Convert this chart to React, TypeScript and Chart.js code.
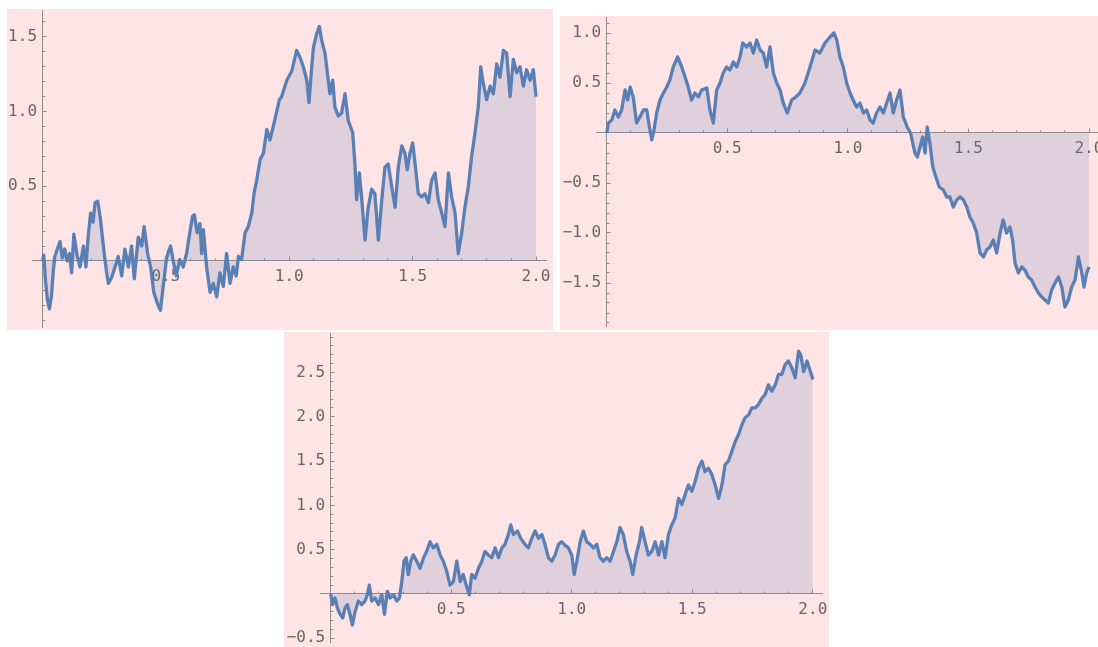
import React, { useEffect, useRef } from 'react';
import { Chart, registerables } from 'chart.js';

Chart.register(...registerables);

// ---------- data: path A (top left) ----------
const pathATimes = [
  0, 0.005, 0.012, 0.02, 0.028, 0.036, 0.044, 0.05, 0.06, 0.071,
  0.08, 0.09, 0.1, 0.11, 0.118, 0.127, 0.14, 0.152, 0.166, 0.176,
  0.186, 0.195, 0.205, 0.213, 0.224, 0.234, 0.25, 0.26, 0.267, 0.28,
  0.294, 0.307, 0.321, 0.334, 0.348, 0.361, 0.372, 0.38, 0.388, 0.402,
  0.412, 0.426, 0.438, 0.451, 0.469, 0.478, 0.489, 0.502, 0.51, 0.519,
  0.531, 0.542, 0.556, 0.57, 0.584, 0.597, 0.608, 0.615, 0.627, 0.638,
  0.645, 0.652, 0.665, 0.679, 0.692, 0.706, 0.719, 0.733, 0.746, 0.76,
  0.773, 0.785, 0.794, 0.807, 0.821, 0.834, 0.848, 0.858, 0.868, 0.882,
  0.895, 0.909, 0.922, 0.935, 0.949, 0.96, 0.969, 0.99, 1.01, 1.03,
  1.044, 1.057, 1.071, 1.08, 1.091, 1.098, 1.111, 1.122, 1.131, 1.145,
  1.158, 1.165, 1.176, 1.185, 1.199, 1.212, 1.226, 1.239, 1.257, 1.266,
  1.273, 1.284, 1.294, 1.307, 1.32, 1.334, 1.347, 1.361, 1.375, 1.388,
  1.401, 1.415, 1.429, 1.442, 1.456, 1.469, 1.478, 1.489, 1.5, 1.51,
  1.523, 1.537, 1.55, 1.564, 1.577, 1.591, 1.604, 1.618, 1.631, 1.645,
  1.658, 1.672, 1.685, 1.699, 1.712, 1.726, 1.739, 1.753, 1.766, 1.776,
  1.786, 1.8, 1.814, 1.827, 1.841, 1.854, 1.868, 1.881, 1.895, 1.908,
  1.922, 1.935, 1.949, 1.962, 1.976, 1.989, 2.0,
];
const pathAValues = [
  0, 0.04, -0.13, -0.26, -0.32, -0.24, -0.06, 0.03, 0.08, 0.13,
  0.02, 0.08, 0.0, 0.05, -0.08, 0.18, 0.04, -0.04, 0.1, -0.04,
  0.18, 0.32, 0.26, 0.39, 0.4, 0.29, 0.05, -0.08, -0.15, -0.11,
  -0.04, 0.03, -0.1, 0.08, -0.04, 0.1, -0.12, 0.02, 0.16, 0.1,
  0.23, 0.05, -0.04, -0.21, -0.3, -0.33, -0.17, 0.01, 0.06, 0.1,
  -0.01, -0.1, 0.01, -0.04, 0.05, 0.19, 0.3, 0.31, 0.19, 0.25,
  0.05, 0.21, -0.04, -0.21, -0.15, -0.24, -0.08, -0.17, 0.05, -0.15,
  -0.04, -0.1, 0.03, 0.01, 0.19, 0.23, 0.32, 0.46, 0.54, 0.68,
  0.72, 0.88, 0.81, 0.9, 1.0, 1.08, 1.1, 1.21, 1.27, 1.41,
  1.36, 1.3, 1.21, 1.06, 1.3, 1.43, 1.52, 1.57, 1.48, 1.39,
  1.21, 1.12, 1.21, 1.03, 0.97, 0.99, 1.12, 0.94, 0.86, 0.65,
  0.41, 0.59, 0.41, 0.14, 0.36, 0.48, 0.45, 0.14, 0.41, 0.63,
  0.65, 0.5, 0.36, 0.63, 0.77, 0.72, 0.61, 0.72, 0.79, 0.65,
  0.45, 0.43, 0.45, 0.39, 0.54, 0.59, 0.41, 0.32, 0.23, 0.59,
  0.43, 0.32, 0.05, 0.19, 0.36, 0.5, 0.7, 0.86, 1.03, 1.3,
  1.19, 1.08, 1.17, 1.12, 1.32, 1.23, 1.41, 1.39, 1.1, 1.35,
  1.26, 1.3, 1.17, 1.28, 1.21, 1.28, 1.1,
];

// ---------- data: path B (top right) ----------
const pathBTimes = [
  0, 0.007, 0.021, 0.034, 0.048, 0.062, 0.076, 0.087, 0.097, 0.11,
  0.124, 0.138, 0.152, 0.166, 0.177, 0.187, 0.196, 0.207, 0.221, 0.235,
  0.249, 0.262, 0.276, 0.294, 0.311, 0.325, 0.338, 0.352, 0.366, 0.38,
  0.394, 0.415, 0.428, 0.442, 0.456, 0.47, 0.483, 0.497, 0.511, 0.525,
  0.539, 0.553, 0.564, 0.58, 0.594, 0.608, 0.622, 0.636, 0.649, 0.663,
  0.677, 0.691, 0.705, 0.719, 0.732, 0.749, 0.767, 0.784, 0.801, 0.822,
  0.843, 0.864, 0.884, 0.905, 0.926, 0.942, 0.954, 0.967, 0.981, 0.995,
  1.009, 1.022, 1.036, 1.05, 1.064, 1.078, 1.092, 1.105, 1.119, 1.133,
  1.147, 1.161, 1.175, 1.188, 1.202, 1.216, 1.23, 1.246, 1.26, 1.269,
  1.278, 1.288, 1.299, 1.31, 1.32, 1.329, 1.34, 1.352, 1.365, 1.379,
  1.396, 1.41, 1.423, 1.437, 1.451, 1.465, 1.479, 1.493, 1.506, 1.52,
  1.534, 1.548, 1.562, 1.575, 1.589, 1.603, 1.617, 1.631, 1.644, 1.658,
  1.672, 1.683, 1.693, 1.707, 1.721, 1.734, 1.748, 1.762, 1.776, 1.79,
  1.804, 1.817, 1.831, 1.845, 1.859, 1.873, 1.887, 1.9, 1.914, 1.928,
  1.942, 1.956, 1.97, 1.979, 1.99, 2.0,
];
const pathBValues = [
  0, 0.1, 0.13, 0.23, 0.16, 0.23, 0.43, 0.33, 0.46, 0.36,
  0.1, 0.16, 0.23, 0.23, 0.06, -0.07, 0.03, 0.2, 0.33, 0.4,
  0.46, 0.53, 0.66, 0.76, 0.66, 0.56, 0.46, 0.33, 0.4, 0.36,
  0.43, 0.45, 0.23, 0.1, 0.43, 0.5, 0.6, 0.66, 0.63, 0.71,
  0.66, 0.76, 0.9, 0.86, 0.9, 0.8, 0.93, 0.83, 0.8, 0.66,
  0.86, 0.6, 0.5, 0.43, 0.3, 0.2, 0.33, 0.36, 0.4, 0.5,
  0.66, 0.83, 0.8, 0.9, 0.96, 1.0, 0.93, 0.76, 0.66, 0.5,
  0.4, 0.33, 0.26, 0.3, 0.2, 0.23, 0.13, 0.1, 0.2, 0.26,
  0.2, 0.3, 0.4, 0.2, 0.33, 0.43, 0.16, 0.06, 0.0, -0.1,
  -0.2, -0.24, -0.14, -0.04, -0.2, 0.06, -0.1, -0.34, -0.44, -0.54,
  -0.57, -0.64, -0.64, -0.74, -0.67, -0.64, -0.67, -0.74, -0.84, -0.9,
  -1.0, -1.2, -1.24, -1.17, -1.14, -1.07, -1.2, -1.0, -0.87, -1.0,
  -0.94, -1.07, -1.3, -1.4, -1.34, -1.37, -1.44, -1.47, -1.54, -1.6,
  -1.64, -1.67, -1.7, -1.57, -1.5, -1.44, -1.54, -1.74, -1.67, -1.54,
  -1.47, -1.24, -1.4, -1.54, -1.4, -1.34,
];

// ---------- data: path C (bottom) ----------
const pathCTimes = [
  0, 0.008, 0.018, 0.028, 0.039, 0.05, 0.059, 0.069, 0.08, 0.09,
  0.101, 0.115, 0.129, 0.142, 0.152, 0.16, 0.17, 0.184, 0.198, 0.212,
  0.223, 0.235, 0.246, 0.26, 0.274, 0.285, 0.295, 0.304, 0.313, 0.322,
  0.332, 0.343, 0.357, 0.371, 0.385, 0.398, 0.412, 0.426, 0.44, 0.454,
  0.467, 0.481, 0.495, 0.509, 0.523, 0.537, 0.55, 0.562, 0.575, 0.585,
  0.599, 0.613, 0.627, 0.64, 0.654, 0.668, 0.682, 0.696, 0.71, 0.723,
  0.737, 0.747, 0.758, 0.775, 0.788, 0.806, 0.82, 0.834, 0.848, 0.862,
  0.876, 0.889, 0.903, 0.917, 0.931, 0.945, 0.958, 0.972, 0.986, 1.0,
  1.01, 1.021, 1.035, 1.048, 1.062, 1.076, 1.09, 1.104, 1.117, 1.131,
  1.145, 1.159, 1.173, 1.187, 1.2, 1.214, 1.228, 1.242, 1.253, 1.267,
  1.281, 1.29, 1.304, 1.318, 1.332, 1.346, 1.36, 1.374, 1.387, 1.401,
  1.415, 1.429, 1.443, 1.457, 1.47, 1.484, 1.498, 1.512, 1.526, 1.54,
  1.553, 1.567, 1.581, 1.595, 1.609, 1.623, 1.636, 1.65, 1.664, 1.678,
  1.692, 1.706, 1.719, 1.733, 1.747, 1.761, 1.775, 1.789, 1.802, 1.816,
  1.83, 1.844, 1.858, 1.872, 1.885, 1.899, 1.913, 1.927, 1.941, 1.95,
  1.962, 1.976, 1.99, 2.0,
];
const pathCValues = [
  0, -0.12, -0.045, -0.16, -0.23, -0.27, -0.16, -0.12, -0.23, -0.35,
  -0.2, -0.08, -0.12, -0.08, -0.01, 0.1, -0.08, -0.045, -0.12, -0.01,
  -0.23, 0.03, -0.045, -0.01, -0.08, -0.045, 0.14, 0.37, 0.41, 0.22,
  0.37, 0.44, 0.37, 0.29, 0.41, 0.48, 0.59, 0.52, 0.56, 0.44,
  0.37, 0.26, 0.1, 0.14, 0.37, 0.14, 0.22, 0.1, -0.01, 0.22,
  0.18, 0.29, 0.37, 0.48, 0.44, 0.41, 0.52, 0.41, 0.52, 0.56,
  0.67, 0.78, 0.67, 0.71, 0.63, 0.56, 0.52, 0.63, 0.71, 0.63,
  0.67, 0.56, 0.41, 0.37, 0.44, 0.56, 0.59, 0.55, 0.52, 0.44,
  0.22, 0.37, 0.59, 0.71, 0.59, 0.56, 0.52, 0.56, 0.41, 0.37,
  0.41, 0.37, 0.48, 0.59, 0.75, 0.67, 0.48, 0.37, 0.22, 0.44,
  0.59, 0.75, 0.59, 0.44, 0.48, 0.59, 0.44, 0.59, 0.41, 0.67,
  0.78, 0.86, 1.08, 1.01, 1.12, 1.23, 1.16, 1.27, 1.42, 1.5,
  1.38, 1.42, 1.35, 1.23, 1.08, 1.23, 1.46, 1.5, 1.61, 1.72,
  1.8, 1.91, 1.99, 2.02, 2.1, 2.1, 2.14, 2.21, 2.25, 2.36,
  2.29, 2.36, 2.48, 2.48, 2.59, 2.63, 2.55, 2.44, 2.74, 2.7,
  2.51, 2.63, 2.51, 2.42,
];

// ---------- tick labels ----------
const xMajorTicks = [0.5, 1.0, 1.5, 2.0];
const yMajorTicksA = [0.5, 1.0, 1.5];
const yMajorTicksB = [-1.5, -1.0, -0.5, 0.5, 1.0];
const yMajorTicksC = [-0.5, 0.5, 1.0, 1.5, 2.0, 2.5];

// ---------- styles ----------
const LINE = '#5A7FB5';
const FILL = 'rgba(94,129,181,0.2)';
const AXIS = '#8c8c8c';
const LABEL = '#666666';
const BG = 'rgb(255,228,229)';
const FONT = { family: "'DejaVu Sans Mono', monospace", size: 16, lineHeight: 1.2 };

type Panel = {
  left: number; top: number; width: number; height: number;
  pad: { left: number; right: number; top: number; bottom: number };
  xMin: number; xMax: number; yMin: number; yMax: number;
  times: number[]; values: number[]; yTicks: number[];
};

const panels: Panel[] = [
  {
    left: 7, top: 9, width: 546, height: 321,
    pad: { left: 25, right: 7, top: 1, bottom: 3 },
    xMin: -0.0426, xMax: 2.0405, yMin: -0.4418, yMax: 1.68,
    times: pathATimes, values: pathAValues, yTicks: yMajorTicksA,
  },
  {
    left: 560, top: 16, width: 546, height: 314,
    pad: { left: 36.7, right: 7.3, top: 1.3, bottom: 3.3 },
    xMin: -0.0415, xMax: 2.04, yMin: -1.937, yMax: 1.157,
    times: pathBTimes, values: pathBValues, yTicks: yMajorTicksB,
  },
  {
    left: 284, top: 332, width: 545, height: 315,
    pad: { left: 36, right: 6.3, top: 1, bottom: 4.3 },
    xMin: -0.0444, xMax: 2.041, yMin: -0.55, yMax: 2.946,
    times: pathCTimes, values: pathCValues, yTicks: yMajorTicksC,
  },
];

const fmt = (v: number) => (v < 0 ? '\u2212' : '') + Math.abs(v).toFixed(1);

function buildConfig(p: Panel): any {
  const areaW = p.width - p.pad.left - p.pad.right;
  const gapValue = (5.5 * (p.xMax - p.xMin)) / areaW;
  const zeroPad = (s: any) => {
    s.paddingLeft = 0; s.paddingRight = 0; s.paddingTop = 0; s.paddingBottom = 0;
  };
  const setTicks = (vals: number[]) => (s: any) => {
    s.ticks = vals.map((v) => ({ value: v }));
  };
  const n = Math.min(p.times.length, p.values.length);
  const points = [] as { x: number; y: number }[];
  for (let i = 0; i < n; i++) points.push({ x: p.times[i], y: p.values[i] });

  const minorGrid = {
    display: true, drawOnChartArea: false, drawTicks: true,
    tickLength: -2.5, tickColor: AXIS, tickWidth: 1,
  };
  const majorGrid = {
    display: true, drawOnChartArea: false, drawTicks: true,
    tickLength: -4.5, tickColor: AXIS, tickWidth: 1,
  };

  return {
    type: 'line',
    data: {
      datasets: [
        {
          data: points,
          borderColor: LINE,
          backgroundColor: FILL,
          borderWidth: 3.3,
          pointRadius: 0,
          fill: 'origin',
          tension: 0,
          borderJoinStyle: 'round',
          xAxisID: 'x',
          yAxisID: 'y',
        },
      ],
    },
    options: {
      animation: false,
      responsive: false,
      events: [],
      layout: { padding: p.pad },
      plugins: { legend: { display: false }, tooltip: { enabled: false } },
      scales: {
        x: {
          type: 'linear', axis: 'x', position: { y: 0 },
          min: p.xMin, max: p.xMax,
          afterBuildTicks: setTicks(xMajorTicks), afterFit: zeroPad,
          grid: majorGrid,
          border: { display: true, color: AXIS, width: 1 },
          ticks: {
            display: true, callback: (v: any) => fmt(Number(v)), color: LABEL, font: FONT,
            padding: 10.9, autoSkip: false, maxRotation: 0, minRotation: 0,
          },
        },
        xm: {
          type: 'linear', axis: 'x', position: { y: 0 },
          min: p.xMin, max: p.xMax, afterFit: zeroPad,
          grid: minorGrid,
          border: { display: false },
          ticks: { display: false, stepSize: 0.1, includeBounds: false, autoSkip: false },
        },
        y: {
          type: 'linear', axis: 'y', position: { x: 0 },
          min: p.yMin, max: p.yMax,
          afterBuildTicks: setTicks(p.yTicks), afterFit: zeroPad,
          grid: majorGrid,
          border: { display: true, color: AXIS, width: 1 },
          ticks: { display: false, autoSkip: false },
        },
        ym: {
          type: 'linear', axis: 'y', position: { x: 0 },
          min: p.yMin, max: p.yMax, afterFit: zeroPad,
          grid: minorGrid,
          border: { display: false },
          ticks: { display: false, stepSize: 0.1, includeBounds: false, autoSkip: false },
        },
        yl: {
          type: 'linear', axis: 'y', position: { x: -gapValue },
          min: p.yMin, max: p.yMax,
          afterBuildTicks: setTicks(p.yTicks), afterFit: zeroPad,
          grid: { display: false, drawTicks: false },
          border: { display: false },
          ticks: {
            display: true, callback: (v: any) => fmt(Number(v)), color: LABEL, font: FONT,
            padding: 0, autoSkip: false,
          },
        },
      },
    },
  };
}

function PanelChart({ p }: { p: Panel }) {
  const ref = useRef<HTMLCanvasElement | null>(null);
  useEffect(() => {
    if (!ref.current) return;
    const chart = new Chart(ref.current, buildConfig(p));
    return () => chart.destroy();
  }, [p]);
  return (
    <div
      style={{
        position: 'absolute', left: p.left, top: p.top,
        width: p.width, height: p.height, background: BG,
      }}
    >
      <canvas
        ref={ref}
        width={p.width}
        height={p.height}
        style={{ display: 'block', width: p.width, height: p.height }}
      />
    </div>
  );
}

export default function App() {
  return (
    <div
      style={{
        position: 'fixed', left: 0, top: 0, width: 1098, height: 647,
        overflow: 'hidden', background: '#ffffff',
      }}
    >
      {panels.map((p, i) => (
        <PanelChart key={i} p={p} />
      ))}
    </div>
  );
}
